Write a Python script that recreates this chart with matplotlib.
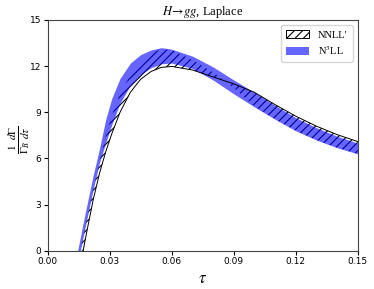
import numpy as np
import matplotlib
matplotlib.use("Agg")
from matplotlib import pyplot as plt
from matplotlib.patches import Patch

# values
tau = [0.0145, 0.017, 0.019, 0.022, 0.025, 0.028, 0.031, 0.035, 0.04, 0.045, 0.05,
       0.055, 0.06, 0.07, 0.08, 0.09, 0.10, 0.11, 0.12, 0.13, 0.14, 0.15]

# N3LL band
n3ll_hi = [0.0, 1.7, 3.0, 4.9, 6.6, 8.5, 9.9, 11.2, 12.2, 12.75, 13.05,
           13.2, 13.1, 12.65, 11.95, 11.1, 10.3, 9.45, 8.65, 8.0, 7.45, 7.0]
n3ll_lo = [-0.8, 0.8, 2.1, 4.0, 5.7, 7.0, 8.2, 9.6, 10.75, 11.45, 11.9,
           12.15, 12.2, 11.85, 11.1, 10.2, 9.35, 8.55, 7.8, 7.2, 6.7, 6.3]

# NNLL' band (edges cross each other)
nnll_a = [-1.8, -0.1, 1.3, 3.3, 5.0, 6.4, 7.6, 9.0, 10.3, 11.15, 11.65,
          11.92, 11.98, 11.75, 11.3, 10.85, 10.3, 9.5, 8.75, 8.1, 7.55, 7.1]
nnll_b = [-0.8, 0.8, 2.1, 4.0, 5.8, 7.4, 8.8, 10.2, 11.4, 12.3, 12.85,
          13.1, 13.05, 12.4, 11.6, 10.6, 9.4, 8.55, 7.8, 7.2, 6.7, 6.3]

xticks = [0.00, 0.03, 0.06, 0.09, 0.12, 0.15]
yticks = [0, 3, 6, 9, 12, 15]

plt.rcParams['mathtext.fontset'] = 'stix'
plt.rcParams['hatch.linewidth'] = 0.8

fig = plt.figure(figsize=(3.74, 2.89), dpi=100)
ax = fig.add_axes([0.1275, 0.132, 0.829, 0.799])

ax.fill_between(tau, nnll_a, nnll_b, facecolor='none', edgecolor='black',
                hatch='////', linewidth=0)
ax.plot(tau, nnll_a, color='black', lw=0.7)
ax.fill_between(tau, n3ll_lo, n3ll_hi, color='blue', alpha=0.6, linewidth=0)

ax.set_xlim(0, 0.15)
ax.set_ylim(0, 15)
ax.set_xticks(xticks)
ax.set_yticks(yticks)
ax.set_xticklabels(['%.2f' % t for t in xticks])
ax.tick_params(labelsize=6.5, length=3, width=0.8, pad=1.5)
for s in ax.spines.values():
    s.set_linewidth(0.8)
    s.set_color('#444444')

ax.set_xlabel(r'$\tau$', fontsize=12, labelpad=2)
ax.set_ylabel(r'$\frac{1}{\Gamma_B}\frac{d\Gamma}{d\tau}$', fontsize=11.5)
ax.yaxis.set_label_coords(-0.05, 0.48)
ax.set_title(r'$H\!\to\! gg$, Laplace', fontsize=9, family='Liberation Serif', pad=3)

handles = [Patch(facecolor='none', edgecolor='black', hatch='////', linewidth=0.7),
           Patch(facecolor='blue', alpha=0.6, linewidth=0)]
labels = ['NNLL\u2032', r'N$^3$LL']
ax.legend(handles, labels, loc='upper right',
          prop={'family': 'Liberation Serif', 'size': 7.5},
          handlelength=2.2, borderpad=0.5, labelspacing=0.4, handletextpad=0.8)

fig.savefig('out.png', dpi=100)
